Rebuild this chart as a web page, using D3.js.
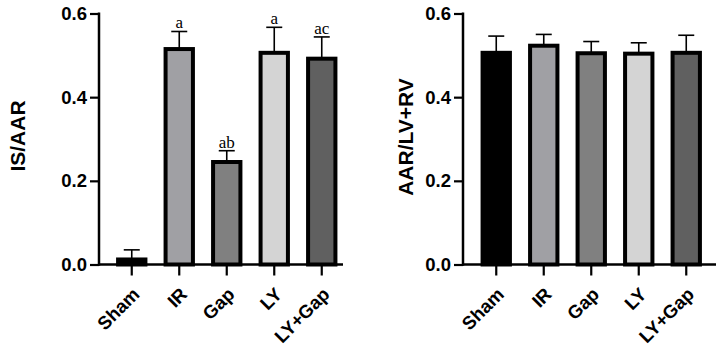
<!DOCTYPE html>
<html><head><meta charset="utf-8">
<script src="https://cdn.jsdelivr.net/npm/d3@7"></script>
<style>body{margin:0;background:#fff}svg{display:block}</style>
</head><body>
<svg id="c" width="726" height="348"></svg>
<script>
const categories = ["Sham", "IR", "Gap", "LY", "LY+Gap"];
const colors = ["#000000", "#a0a0a4", "#808080", "#d4d4d4", "#606060"];
const isAarMean = [0.012, 0.515, 0.245, 0.506, 0.492];
const isAarErr  = [0.035, 0.557, 0.272, 0.567, 0.544];
const isAarLetters = ["", "a", "ab", "a", "ac"];
const aarMean = [0.506, 0.523, 0.505, 0.504, 0.506];
const aarErr  = [0.546, 0.550, 0.533, 0.530, 0.548];
const yTicks = [0, 0.2, 0.4, 0.6];

const svg = d3.select("#c");
const FONT = "'Liberation Sans', Arial, sans-serif";

function panel(opt){
  const g = svg.append("g");
  const y = d3.scaleLinear().domain([0, 0.6]).range([264.5, 13.5]);
  const x = d3.scaleBand().domain(categories).range([opt.b0, opt.b0 + 237.5])
    .paddingInner(0.34).paddingOuter(0.17);
  const data = categories.map((c,i)=>({c, m:opt.mean[i], e:opt.err[i], col:colors[i], l:opt.letters ? opt.letters[i] : ""}));
  const bw = x.bandwidth() - 4;
  // error bars
  g.selectAll("line.eb").data(data).join("line")
    .attr("x1", d=>x(d.c)+x.bandwidth()/2).attr("x2", d=>x(d.c)+x.bandwidth()/2)
    .attr("y1", d=>y(d.m)).attr("y2", d=>y(d.e))
    .attr("stroke","#000").attr("stroke-width",1.6);
  g.selectAll("line.cap").data(data).join("line")
    .attr("x1", d=>x(d.c)+x.bandwidth()/2-8).attr("x2", d=>x(d.c)+x.bandwidth()/2+8)
    .attr("y1", d=>y(d.e)).attr("y2", d=>y(d.e))
    .attr("stroke","#000").attr("stroke-width",1.6);
  // bars
  g.selectAll("rect").data(data).join("rect")
    .attr("x", d=>x(d.c)+2).attr("width", bw)
    .attr("y", d=>y(d.m)).attr("height", d=>y(0)-y(d.m))
    .attr("fill", d=>d.col).attr("stroke","#000").attr("stroke-width",4);
  // letters
  g.selectAll("text.let").data(data.filter(d=>d.l)).join("text")
    .attr("x", d=>x(d.c)+x.bandwidth()/2).attr("y", d=>y(d.e)-3)
    .attr("text-anchor","middle").attr("font-family","'Liberation Serif','Times New Roman',serif")
    .attr("font-size",17).text(d=>d.l);
  // y axis
  const ya = g.append("g").attr("transform",`translate(${opt.ax},0)`)
    .call(d3.axisLeft(y).tickValues(yTicks).tickFormat(d3.format(".1f")).tickSize(9).tickPadding(3));
  ya.select(".domain").remove();
  ya.selectAll(".tick line").attr("stroke","#000").attr("stroke-width",2.2);
  ya.selectAll("text").attr("font-family",FONT).attr("font-weight","bold").attr("font-size",18.5).attr("fill","#000");
  g.append("line").attr("x1",opt.ax).attr("x2",opt.ax).attr("y1",y(0)+1.2).attr("y2",y(0.6)-1)
    .attr("stroke","#000").attr("stroke-width",2.5);
  // x axis
  g.append("line").attr("x1",opt.ax-1).attr("x2",opt.axEnd).attr("y1",y(0)).attr("y2",y(0))
    .attr("stroke","#000").attr("stroke-width",2.5);
  const xa = g.append("g").attr("transform",`translate(0,${y(0)})`)
    .call(d3.axisBottom(x).tickSize(11).tickPadding(0));
  xa.select(".domain").remove();
  xa.selectAll(".tick line").attr("stroke","#000").attr("stroke-width",2.2);
  xa.selectAll("text").attr("font-family",FONT).attr("font-weight","bold").attr("font-size",18.5).attr("fill","#000")
    .attr("text-anchor","end").attr("dy",null).attr("y",null)
    .attr("transform","translate(9,31) rotate(-45)");
  // title
  g.append("text").attr("transform",`translate(${opt.tx},${opt.ty}) rotate(-90)`)
    .attr("text-anchor","middle").attr("font-family",FONT).attr("font-weight","bold")
    .attr("font-size",21).text(opt.title);
}
panel({b0:108, ax:99, axEnd:343, mean:isAarMean, err:isAarErr, letters:isAarLetters, title:"IS/AAR", tx:25, ty:136});
panel({b0:472.5, ax:463, axEnd:716, mean:aarMean, err:aarErr, letters:null, title:"AAR/LV+RV", tx:413, ty:137});
</script>
</body></html>
